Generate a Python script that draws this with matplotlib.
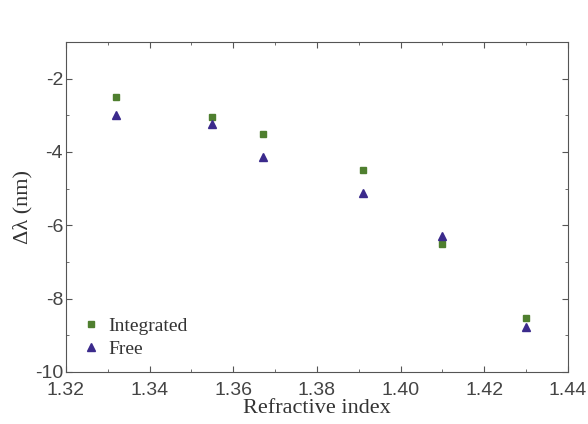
import matplotlib
matplotlib.use("Agg")
import matplotlib.pyplot as plt
from matplotlib.ticker import MultipleLocator

plt.rcParams["axes.unicode_minus"] = False

# DADOS
indice = [1.332, 1.355, 1.367, 1.391, 1.410, 1.430]
integrado = [-2.49, -3.06, -3.50, -4.48, -6.50, -8.54]
livre = [-2.98, -3.25, -4.15, -5.13, -6.28, -8.79]

fig = plt.figure(figsize=(5.88, 4.24), dpi=100)
ax = fig.add_axes([0.112, 0.123, 0.854, 0.778])

ax.plot(indice, integrado, linestyle="none", marker="s", markersize=5,
        color="#4f7f2f", label="Integrated")
ax.plot(indice, livre, linestyle="none", marker="^", markersize=6,
        color="#3b2a8c", label="Free")

ax.set_xlim(1.32, 1.44)
ax.set_ylim(-10, -1)
ax.xaxis.set_major_locator(MultipleLocator(0.02))
ax.xaxis.set_minor_locator(MultipleLocator(0.01))
ax.yaxis.set_major_locator(MultipleLocator(2))
ax.yaxis.set_minor_locator(MultipleLocator(1))
ax.set_xticklabels([f"{v:.2f}" for v in ax.get_xticks()])
ax.tick_params(which="both", direction="in", top=True, right=True, color="#555555")
ax.tick_params(which="major", length=4, labelsize=14, pad=2)
ax.tick_params(axis="x", which="major", pad=7)
ax.tick_params(which="minor", length=2)
for lbl in ax.get_xticklabels() + ax.get_yticklabels():
    lbl.set_family("Liberation Sans")
    lbl.set_color("#444444")
for s in ax.spines.values():
    s.set_color("#555555")

ax.set_xlabel("Refractive index", family="Liberation Serif", fontsize=16,
              color="#333333", labelpad=0)
ax.set_ylabel("Δλ (nm)", family="Liberation Serif", fontsize=16,
              color="#333333", labelpad=2)

leg = ax.legend(loc="lower left", frameon=False, handletextpad=0.3,
                prop={"family": "Liberation Serif", "size": 14},
                borderaxespad=0.3, labelspacing=0.3, handlelength=1.2)
for t in leg.get_texts():
    t.set_color("#333333")

plt.savefig("out.png", dpi=100)
